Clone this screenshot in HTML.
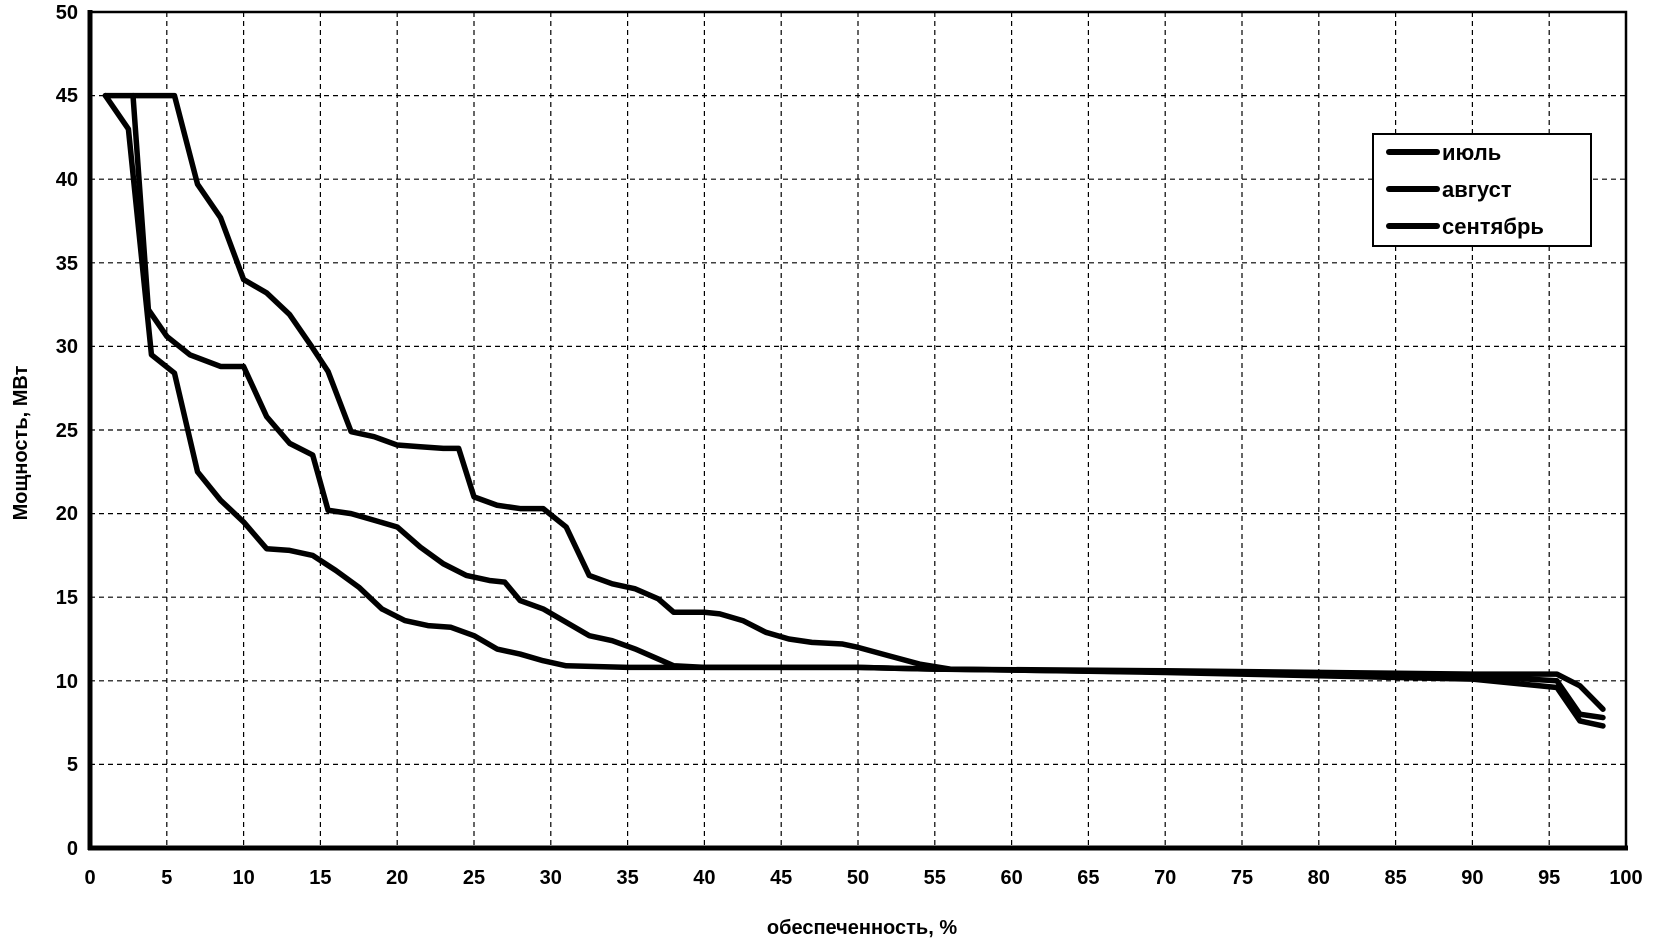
<!DOCTYPE html>
<html><head><meta charset="utf-8"><style>
html,body{margin:0;padding:0;background:#fff;}
svg{display:block;font-family:"Liberation Sans",Arial,sans-serif;font-weight:bold;}
</style></head><body>
<svg width="1654" height="945" xmlns="http://www.w3.org/2000/svg">
<g stroke="#000" stroke-width="1.2" stroke-dasharray="5,4">
<line x1="166.8" y1="12" x2="166.8" y2="848"/><line x1="243.6" y1="12" x2="243.6" y2="848"/><line x1="320.4" y1="12" x2="320.4" y2="848"/><line x1="397.2" y1="12" x2="397.2" y2="848"/><line x1="474" y1="12" x2="474" y2="848"/><line x1="550.8" y1="12" x2="550.8" y2="848"/><line x1="627.6" y1="12" x2="627.6" y2="848"/><line x1="704.4" y1="12" x2="704.4" y2="848"/><line x1="781.2" y1="12" x2="781.2" y2="848"/><line x1="858" y1="12" x2="858" y2="848"/><line x1="934.8" y1="12" x2="934.8" y2="848"/><line x1="1011.6" y1="12" x2="1011.6" y2="848"/><line x1="1088.4" y1="12" x2="1088.4" y2="848"/><line x1="1165.2" y1="12" x2="1165.2" y2="848"/><line x1="1242" y1="12" x2="1242" y2="848"/><line x1="1318.8" y1="12" x2="1318.8" y2="848"/><line x1="1395.6" y1="12" x2="1395.6" y2="848"/><line x1="1472.4" y1="12" x2="1472.4" y2="848"/><line x1="1549.2" y1="12" x2="1549.2" y2="848"/>
<line x1="90" y1="764.4" x2="1626" y2="764.4"/><line x1="90" y1="680.8" x2="1626" y2="680.8"/><line x1="90" y1="597.2" x2="1626" y2="597.2"/><line x1="90" y1="513.6" x2="1626" y2="513.6"/><line x1="90" y1="430" x2="1626" y2="430"/><line x1="90" y1="346.4" x2="1626" y2="346.4"/><line x1="90" y1="262.8" x2="1626" y2="262.8"/><line x1="90" y1="179.2" x2="1626" y2="179.2"/><line x1="90" y1="95.6" x2="1626" y2="95.6"/>
</g>
<rect x="90" y="12" width="1536" height="836" fill="none" stroke="#000" stroke-width="2.5"/>
<line x1="90" y1="10" x2="90" y2="850" stroke="#000" stroke-width="5"/>
<line x1="88" y1="848" x2="1628" y2="848" stroke="#000" stroke-width="5"/>
<g font-size="20" text-anchor="end">
<text x="78" y="855">0</text><text x="78" y="771">5</text><text x="78" y="688">10</text><text x="78" y="604">15</text><text x="78" y="520">20</text><text x="78" y="437">25</text><text x="78" y="353">30</text><text x="78" y="270">35</text><text x="78" y="186">40</text><text x="78" y="102">45</text><text x="78" y="19">50</text>
</g>
<g font-size="20" text-anchor="middle">
<text x="90" y="884">0</text><text x="166.8" y="884">5</text><text x="243.6" y="884">10</text><text x="320.4" y="884">15</text><text x="397.2" y="884">20</text><text x="474" y="884">25</text><text x="550.8" y="884">30</text><text x="627.6" y="884">35</text><text x="704.4" y="884">40</text><text x="781.2" y="884">45</text><text x="858" y="884">50</text><text x="934.8" y="884">55</text><text x="1011.6" y="884">60</text><text x="1088.4" y="884">65</text><text x="1165.2" y="884">70</text><text x="1242" y="884">75</text><text x="1318.8" y="884">80</text><text x="1395.6" y="884">85</text><text x="1472.4" y="884">90</text><text x="1549.2" y="884">95</text><text x="1626" y="884">100</text>
<text x="862" y="934" font-size="20">обеспеченность, %</text>
<text transform="translate(27,443) rotate(-90)" font-size="20">Мощность, МВт</text>
</g>
<g transform="translate(90,848) scale(15.36,-16.72)" fill="none" stroke="#000" stroke-width="5.5" stroke-linejoin="round" stroke-linecap="round">
<polyline vector-effect="non-scaling-stroke" points="1,45 2.5,43 4,29.5 5.5,28.4 7,22.5 8.5,20.8 10,19.5 11.5,17.9 13,17.8 14.5,17.5 16,16.6 17.5,15.6 19,14.3 20.5,13.6 22,13.3 23.5,13.2 25,12.7 26.5,11.9 28,11.6 29.5,11.2 31,10.9 35,10.8 40,10.8 50,10.8 55,10.7 70,10.6 90,10.4 95.5,10.4 97,9.7 98.5,8.3"/>
<polyline vector-effect="non-scaling-stroke" points="1,45 2.8,45 3.8,32.2 5,30.6 6.5,29.5 8.5,28.8 10,28.8 11.5,25.8 13,24.2 14.5,23.5 15.5,20.2 17,20 18.5,19.6 20,19.2 21.5,18 23,17 24.5,16.3 26,16 27,15.9 28,14.8 29.5,14.3 31,13.5 32.5,12.7 34,12.4 35.5,11.9 37,11.3 38,10.9 40,10.8 50,10.8 55,10.7 90,10.3 95.5,10 97,8 98.5,7.8"/>
<polyline vector-effect="non-scaling-stroke" points="2.8,45 5.5,45 7,39.7 8.5,37.7 10,34 11.5,33.2 13,31.9 14.5,29.9 15.5,28.5 17,24.9 18.5,24.6 20,24.1 21.5,24 23,23.9 24,23.9 25,21 26.5,20.5 28,20.3 29.5,20.3 31,19.2 32.5,16.3 34,15.8 35.5,15.5 37,14.9 38,14.1 40,14.1 41,14 42.5,13.6 44,12.9 45.5,12.5 47,12.3 49,12.2 50,12 52,11.5 54,11 56,10.7 70,10.5 90,10.1 95.5,9.6 97,7.6 98.5,7.3"/>
</g>
<rect x="1373" y="134" width="218" height="112" fill="#fff" stroke="#000" stroke-width="2"/>
<g stroke="#000" stroke-width="6" stroke-linecap="round">
<line x1="1389" y1="152" x2="1437" y2="152"/><line x1="1389" y1="189" x2="1437" y2="189"/><line x1="1389" y1="226" x2="1437" y2="226"/>
</g>
<g font-size="22">
<text x="1442" y="160">июль</text><text x="1442" y="197">август</text><text x="1442" y="234">сентябрь</text>
</g>
</svg>
</body></html>
